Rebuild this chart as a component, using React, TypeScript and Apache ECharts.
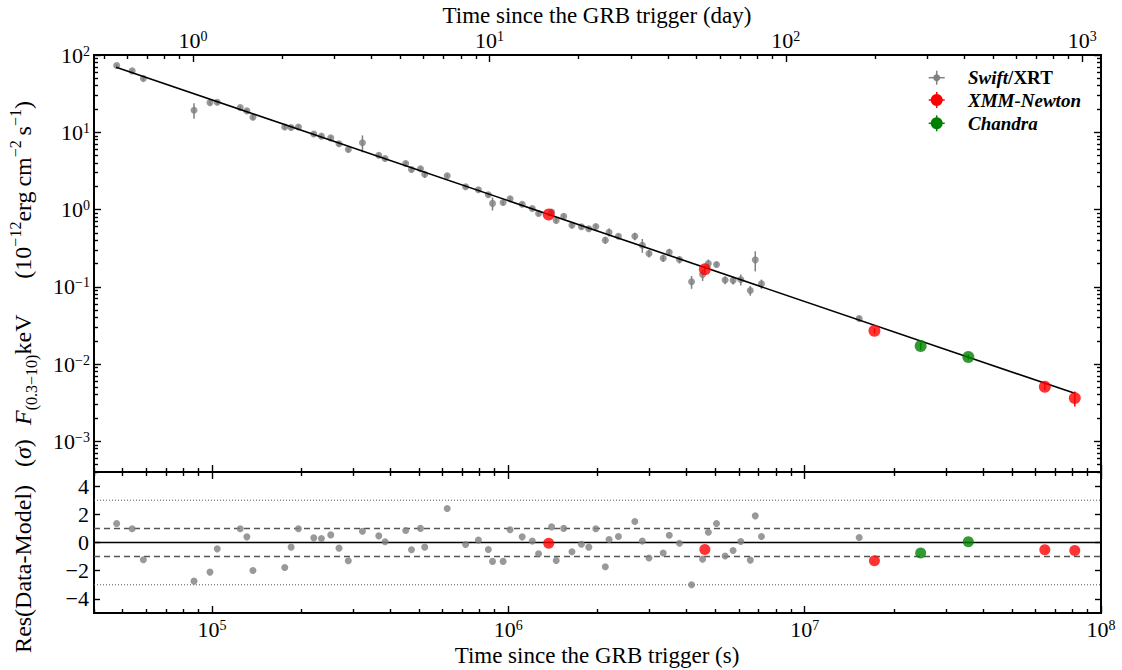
import React, { useEffect, useRef } from 'react';
import * as echarts from 'echarts';

// ---------------- data ----------------
const xrtTime = [4.77e4, 5.38e4, 5.87e4, 8.70e4, 9.85e4, 1.042e5, 1.246e5, 1.312e5, 1.375e5, 1.761e5,
  1.850e5, 1.958e5, 2.206e5, 2.341e5, 2.517e5, 2.684e5, 2.886e5, 3.220e5, 3.656e5, 3.839e5,
  4.507e5, 4.714e5, 5.055e5, 5.223e5, 6.222e5, 7.177e5, 7.927e5, 8.563e5, 8.846e5, 9.606e5,
  1.014e6, 1.114e6, 1.205e6, 1.265e6, 1.400e6, 1.451e6, 1.538e6, 1.640e6, 1.765e6, 1.869e6,
  1.974e6, 2.125e6, 2.188e6, 2.353e6, 2.673e6, 2.833e6, 2.984e6, 3.332e6, 3.493e6, 3.780e6,
  4.154e6, 4.526e6, 4.732e6, 5.042e6, 5.391e6, 5.736e6, 6.088e6, 6.555e6, 6.814e6, 7.150e6,
  1.528e7];
const xrtFlux = [73, 62.3, 49.5, 19.3, 24.2, 24.4, 20.9, 18.9, 15.6, 11.7,
  11.5, 11.7, 9.5, 8.9, 8.45, 7.08, 5.97, 7.3, 5.05, 4.57,
  3.94, 3.29, 3.36, 2.86, 2.73, 1.97, 1.80, 1.55, 1.20, 1.23,
  1.38, 1.17, 1.03, 0.887, 0.93, 0.721, 0.819, 0.626, 0.597, 0.562,
  0.603, 0.401, 0.508, 0.451, 0.451, 0.345, 0.270, 0.234, 0.280, 0.225,
  0.116, 0.144, 0.200, 0.194, 0.122, 0.121, 0.124, 0.0895, 0.223, 0.109,
  0.0389];
const xrtErr = [3, 2.5, 3, 4.4, 1.5, 1.5, 1.2, 1.2, 1.2, 0.7,
  0.7, 0.7, 0.6, 0.6, 0.5, 0.5, 0.4, 1.8, 0.3, 0.3,
  0.25, 0.25, 0.2, 0.3, 0.13, 0.12, 0.1, 0.1, 0.23, 0.09,
  0.08, 0.07, 0.06, 0.06, 0.06, 0.05, 0.05, 0.05, 0.04, 0.04,
  0.04, 0.04, 0.06, 0.03, 0.05, 0.07, 0.03, 0.025, 0.03, 0.025,
  0.022, 0.025, 0.025, 0.015, 0.014, 0.014, 0.02, 0.013, 0.065, 0.015,
  0.003];
const xrtRes = [1.35, 0.97, -1.22, -2.74, -2.1, -0.45, 0.97, 0.4, -1.98, -1.77,
  -0.33, 0.97, 0.33, 0.28, 0.54, -0.4, -1.3, 0.8, 0.47, 0.05,
  0.85, -0.52, 1.0, -0.33, 2.41, -0.14, 0.17, -0.5, -1.34, -1.34,
  0.9, 0.4, 0.1, -0.8, 1.11, -1.27, 1.0, -0.66, -0.12, -0.33,
  0.97, -1.72, 0.21, 0.43, 1.49, 0.1, -1.1, -0.75, 0.52, -0.05,
  -3.0, -1.18, 0.73, 1.35, -0.96, -0.57, 0.07, -1.25, 1.89, 0.43,
  0.35];

const xmmTime = [1.369e6, 4.606e6, 1.720e7, 6.464e7, 8.157e7];
const xmmFlux = [0.861, 0.168, 0.027, 0.00508, 0.00362];
const xmmErr = [0.04, 0.02, 0.002, 0.0005, 0.0008];
const xmmRes = [-0.05, -0.5, -1.3, -0.52, -0.57];

const chandraTime = [2.463e7, 3.567e7];
const chandraFlux = [0.0171, 0.0123];
const chandraErr = [0.0018, 0.0009];
const chandraRes = [-0.75, 0.05];

const modelTime = [4.752e4, 8.153e7];
const modelFlux = [69.3, 4.17e-3];

const xRange = [4e4, 1e8];
const fluxRange = [4e-4, 1e2];
const resRange = [-5, 5];
const xMajorExp = [5, 6, 7, 8];
const dayMajorExp = [0, 1, 2, 3];
const fluxMajorExp = [-3, -2, -1, 0, 1, 2];
const resTicks = [-4, -2, 0, 2, 4];
const resSolid = [0];
const resDashed = [-1, 1];
const resDotted = [-3, 3];
const SEC_PER_DAY = 86400;

// ---------------- helpers ----------------
const FONT = '"Liberation Serif", "DejaVu Serif", serif';
const L10 = Math.log10;
const LX0 = L10(xRange[0]);
const LX1 = L10(xRange[1]);
const LY0 = L10(fluxRange[0]);
const LY1 = L10(fluxRange[1]);
const LDAY = L10(SEC_PER_DAY);

const GRAY = '#808080';
const RED = '#ff0000';
const GREEN = '#008000';

function minorLogs(lo: number, hi: number, shift = 0) {
  const out: number[] = [];
  for (let k = Math.floor(lo) - 1; k <= Math.ceil(hi); k++) {
    for (let m = 2; m <= 9; m++) {
      const v = k + L10(m) + shift;
      if (v >= lo + shift - 1e-9 && v <= hi + shift + 1e-9) out.push(v);
    }
  }
  return out;
}

const supTxt = (e: number) => String(e).replace('-', '\u2212');
const powLabel = (e: number) => `{b|10}{s|${supTxt(e)}}`;
const powRich = {
  b: { fontSize: 22, fontFamily: FONT, color: '#000', lineHeight: 22, verticalAlign: 'middle' },
  s: { fontSize: 14, fontFamily: FONT, color: '#000', lineHeight: 13, verticalAlign: 'top' },
};

const tickStyle = { color: '#000', width: 1.4 };

function mkX(gridIndex: number, position: string, ticks: number[], len: number, label?: any) {
  return {
    type: 'value', gridIndex, position, min: LX0, max: LX1,
    axisLine: { show: false, onZero: false }, splitLine: { show: false },
    axisTick: { show: true, inside: true, length: len, customValues: ticks, lineStyle: tickStyle },
    axisLabel: label ? { show: true, customValues: ticks, color: '#000', fontFamily: FONT, ...label } : { show: false },
  };
}
function mkY(gridIndex: number, position: string, min: number, max: number, ticks: number[], len: number, label?: any) {
  return {
    type: 'value', gridIndex, position, min, max,
    axisLine: { show: false, onZero: false }, splitLine: { show: false },
    axisTick: { show: true, inside: true, length: len, customValues: ticks, lineStyle: tickStyle },
    axisLabel: label ? { show: true, customValues: ticks, color: '#000', fontFamily: FONT, ...label } : { show: false },
  };
}

function errData(t: number[], f: number[], e: number[]) {
  return t.map((ti, i) => [L10(ti), L10(f[i] - e[i]), L10(f[i] + e[i])]);
}
function errSeries(data: number[][], color: string) {
  return {
    type: 'custom', xAxisIndex: 0, yAxisIndex: 0, data, z: 2, silent: true,
    encode: { x: 0, y: [1, 2] },
    renderItem: (params: any, api: any) => {
      const a = api.coord([api.value(0), api.value(1)]);
      const b = api.coord([api.value(0), api.value(2)]);
      return { type: 'line', shape: { x1: a[0], y1: a[1], x2: b[0], y2: b[1] }, style: { stroke: color, lineWidth: 1.5 } };
    },
  };
}
const logPts = (t: number[], f: number[]) => t.map((ti, i) => [L10(ti), L10(f[i])]);
const resPts = (t: number[], r: number[]) => t.map((ti, i) => [L10(ti), r[i]]);

function refLine(level: number, style: any) {
  return {
    type: 'line', xAxisIndex: 4, yAxisIndex: 4, data: [[LX0, level], [LX1, level]],
    symbol: 'none', silent: true, z: 1, lineStyle: style,
  };
}

function legendRow(y: number, color: string, r: number, hx: number, vy: number, rich: string) {
  const cx = 936.7;
  return [
    { type: 'line', shape: { x1: cx - hx, y1: y, x2: cx + hx, y2: y }, style: { stroke: color, lineWidth: 1.5 } },
    { type: 'line', shape: { x1: cx, y1: y - vy, x2: cx, y2: y + vy }, style: { stroke: color, lineWidth: 1.5 } },
    { type: 'circle', shape: { cx, cy: y, r }, style: { fill: color } },
    {
      type: 'text', x: 968, y,
      style: {
        text: rich, align: 'left', verticalAlign: 'middle',
        rich: {
          i: { fontFamily: FONT, fontSize: 19, fontStyle: 'italic', fontWeight: 'bold', fill: '#000' },
          n: { fontFamily: FONT, fontSize: 19, fontWeight: 'bold', fill: '#000' },
        },
      },
    },
  ];
}

export default function App() {
  const ref = useRef<HTMLDivElement>(null);
  useEffect(() => {
    if (!ref.current) return;
    const chart = echarts.init(ref.current, undefined, { renderer: 'svg' });

    const xMaj = xMajorExp.filter((e) => e >= LX0 - 1e-9 && e <= LX1 + 1e-9);
    const xMin = minorLogs(LX0, LX1);
    const dayLo = LX0 - LDAY;
    const dayHi = LX1 - LDAY;
    const dayMaj = dayMajorExp.map((e) => e + LDAY);
    const dayMin = minorLogs(dayLo, dayHi, LDAY);
    const yMaj = fluxMajorExp;
    const yMin = minorLogs(LY0, LY1);

    const option: any = {
      animation: false,
      backgroundColor: '#fff',
      grid: [
        { left: 94, top: 55, width: 1007, height: 417, show: true, borderColor: '#000', borderWidth: 2, backgroundColor: 'transparent' },
        { left: 94, top: 472, width: 1007, height: 141, show: true, borderColor: '#000', borderWidth: 2, backgroundColor: 'transparent' },
      ],
      xAxis: [
        mkX(0, 'bottom', xMaj, 7),
        mkX(0, 'bottom', xMin, 4),
        mkX(0, 'top', dayMaj, 7, {
          margin: 4, rich: powRich,
          formatter: (v: number) => powLabel(Math.round(v - LDAY)),
        }),
        mkX(0, 'top', dayMin, 4),
        mkX(1, 'bottom', xMaj, 7, {
          margin: 5, rich: powRich,
          formatter: (v: number) => powLabel(Math.round(v)),
        }),
        mkX(1, 'bottom', xMin, 4),
        mkX(1, 'top', xMaj, 7),
        mkX(1, 'top', xMin, 4),
      ],
      yAxis: [
        mkY(0, 'left', LY0, LY1, yMaj, 7, {
          margin: 4, rich: powRich,
          formatter: (v: number) => powLabel(Math.round(v)),
        }),
        mkY(0, 'left', LY0, LY1, yMin, 4),
        mkY(0, 'right', LY0, LY1, yMaj, 7),
        mkY(0, 'right', LY0, LY1, yMin, 4),
        mkY(1, 'left', resRange[0], resRange[1], resTicks, 6, {
          margin: 5, fontSize: 22,
          formatter: (v: number) => (v < 0 ? '\u2212' + Math.abs(v) : String(v)),
        }),
        mkY(1, 'right', resRange[0], resRange[1], resTicks, 6),
      ],
      series: [
        errSeries(errData(xrtTime, xrtFlux, xrtErr), GRAY),
        errSeries(errData(xmmTime, xmmFlux, xmmErr), RED),
        errSeries(errData(chandraTime, chandraFlux, chandraErr), GREEN),
        {
          type: 'scatter', xAxisIndex: 0, yAxisIndex: 0, data: logPts(xrtTime, xrtFlux),
          symbol: 'circle', symbolSize: 7, itemStyle: { color: GRAY }, z: 3, silent: true,
        },
        {
          type: 'line', xAxisIndex: 0, yAxisIndex: 0, data: logPts(modelTime, modelFlux),
          symbol: 'none', lineStyle: { color: '#000', width: 1.6 }, z: 4, silent: true,
        },
        {
          type: 'scatter', xAxisIndex: 0, yAxisIndex: 0, data: logPts(xmmTime, xmmFlux),
          symbol: 'circle', symbolSize: 12, itemStyle: { color: RED }, z: 5, silent: true,
        },
        {
          type: 'scatter', xAxisIndex: 0, yAxisIndex: 0, data: logPts(chandraTime, chandraFlux),
          symbol: 'circle', symbolSize: 12, itemStyle: { color: GREEN }, z: 5, silent: true,
        },
        ...resDotted.map((l) => refLine(l, { color: '#555', width: 1, type: [1, 2] })),
        ...resDashed.map((l) => refLine(l, { color: '#555', width: 1.5, type: [6, 4] })),
        ...resSolid.map((l) => refLine(l, { color: '#000', width: 1.6 })),
        {
          type: 'scatter', xAxisIndex: 4, yAxisIndex: 4, data: resPts(xrtTime, xrtRes),
          symbol: 'circle', symbolSize: 7, itemStyle: { color: GRAY }, z: 3, silent: true,
        },
        {
          type: 'scatter', xAxisIndex: 4, yAxisIndex: 4, data: resPts(xmmTime, xmmRes),
          symbol: 'circle', symbolSize: 11, itemStyle: { color: RED }, z: 5, silent: true,
        },
        {
          type: 'scatter', xAxisIndex: 4, yAxisIndex: 4, data: resPts(chandraTime, chandraRes),
          symbol: 'circle', symbolSize: 11, itemStyle: { color: GREEN }, z: 5, silent: true,
        },
      ],
      graphic: [
        {
          type: 'text', x: 597, y: 15,
          style: { text: 'Time since the GRB trigger (day)', font: `23px ${FONT}`, fill: '#000', align: 'center', verticalAlign: 'middle' },
        },
        {
          type: 'text', x: 597, y: 655,
          style: { text: 'Time since the GRB trigger (s)', font: `23px ${FONT}`, fill: '#000', align: 'center', verticalAlign: 'middle' },
        },
        {
          type: 'text', x: 23, y: 263, rotation: Math.PI / 2,
          style: {
            text: '{it|F}{sub|(0.3\u221210)}{n|keV      (10}{sup|\u221212}{n|erg\u2009cm}{sup|\u22122}{n|\u2009s}{sup|\u22121}{n|)}',
            align: 'center', verticalAlign: 'middle',
            rich: {
              it: { fontFamily: FONT, fontSize: 24, fontStyle: 'italic', fill: '#000', lineHeight: 32, verticalAlign: 'middle' },
              n: { fontFamily: FONT, fontSize: 24, fill: '#000', lineHeight: 32, verticalAlign: 'middle' },
              sub: { fontFamily: FONT, fontSize: 16, fill: '#000', lineHeight: 17, verticalAlign: 'bottom' },
              sup: { fontFamily: FONT, fontSize: 16, fill: '#000', lineHeight: 19, verticalAlign: 'top' },
            },
          },
        },
        {
          type: 'text', x: 23, y: 546, rotation: Math.PI / 2,
          style: {
            text: '{n|Res(Data-Model)   (}{it|\u03c3}{n|)}',
            align: 'center', verticalAlign: 'middle',
            rich: {
              it: { fontFamily: FONT, fontSize: 24, fontStyle: 'italic', fill: '#000' },
              n: { fontFamily: FONT, fontSize: 24, fill: '#000' },
            },
          },
        },
        ...legendRow(77.7, GRAY, 3.5, 8, 7, '{i|Swift}{n|/XRT}'),
        ...legendRow(100, RED, 6, 8, 8, '{i|XMM-Newton}'),
        ...legendRow(123.3, GREEN, 6, 8, 8, '{i|Chandra}'),
      ],
    };
    chart.setOption(option);
    return () => chart.dispose();
  }, []);
  return <div ref={ref} style={{ position: 'absolute', left: 0, top: 0, width: 1122, height: 670 }} />;
}
